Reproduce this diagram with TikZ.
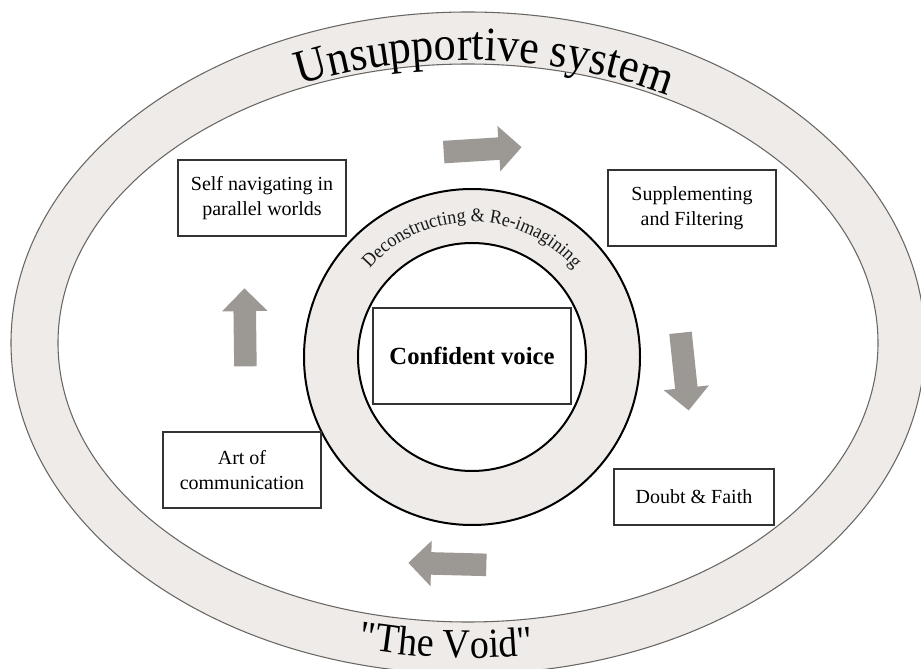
\documentclass[tikz,border=0pt]{standalone}
\usepackage{fontspec}
\setmainfont{Liberation Serif}
\usepackage{tikz}
\usepackage{xcolor}
\usetikzlibrary{
    shapes,
    shapes.arrows,
    decorations.text,
    calc,
    positioning
}
\definecolor{ringgray}{RGB}{238,235,232}
\definecolor{flowgray}{RGB}{156,153,149}
\definecolor{rimline}{RGB}{105,103,100}

\begin{document}
\begin{tikzpicture}[x=0.75pt, y=0.75pt,
    stage/.style={draw=black!80, line width=1.5pt, fill=white, align=center, inner sep=0pt,
        font=\fontsize{15}{18.75}\selectfont},
    flow/.style={single arrow, fill=flowgray, inner sep=8.25pt, single arrow head extend=8.6pt,
        minimum height=58.5pt}]
                        \fill[white] (0, 0) rectangle (921, 668);
                        \useasboundingbox (0, 0) rectangle (921, 668);
                        \coordinate (sys) at (468, 325);
                        \coordinate (hub) at (472, 311);
                        \draw[rimline, line width=0.8pt, fill=ringgray, even odd rule]
                        (sys) ellipse[x radius=457, y radius=331]
                        (sys) ellipse[x radius=410, y radius=279];
                        \path[decorate, decoration={text along path, text align=center,
                            text={|\fontsize{36}{36}\selectfont\addfontfeature{FakeStretch=0.92}|Unsupportive system}}]
                        ($(sys)+(120:412 and 283)$) arc[start angle=120, end angle=55, x radius=412, y radius=283];
                        \path[decorate, decoration={text along path, text align=center,
                            text={|\fontsize{31}{31}\selectfont\addfontfeature{FakeStretch=0.92}|{\textquotedbl}The Void{\textquotedbl}}}]
                        ($(sys)+(237:443 and 315)$) arc[start angle=237, end angle=297, x radius=443, y radius=315];
                        \draw[line width=1.5pt, fill=ringgray] (hub) circle[radius=168];
                        \draw[line width=1.5pt, fill=white] (hub) circle[radius=114];
                        \path[decorate, decoration={text along path, text align=center,
                            text={|\color{black!90}\fontsize{14.5}{14.5}\selectfont\addfontfeature{FakeStretch=0.93}|Deconstructing {\&} Re-imagining}}]
                        ($(hub)+(150:135)$) arc[start angle=150, end angle=30, radius=135];
                        \node[stage, minimum width=149pt, minimum height=72pt,
                            font=\bfseries\fontsize{18.5}{22}\selectfont] (voice) at (472, 312) {Confident voice};
                        \node[stage, minimum width=126pt, minimum height=57pt] (self) at (262, 470) {Self navigating in\\parallel worlds};
                        \node[stage, minimum width=126pt, minimum height=57pt] (supp) at (692, 460) {Supplementing\\and Filtering};
                        \node[stage, minimum width=118.5pt, minimum height=57pt] (art) at (242, 198) {Art of\\communication};
                        \node[stage, minimum width=120pt, minimum height=42pt] (doubt) at (694, 171) {Doubt \& Faith};
                        \node[flow, rotate=3.6] (toSupp) at (477, 518) {};
                        \node[flow, rotate=-84] (toDoubt) at (684, 302) {};
                        \node[flow, rotate=178.5] (toArt) at (453, 104) {};
                        \node[flow, rotate=90.7] (toSelf) at (245, 335) {};
                    \end{tikzpicture}
\end{document}
